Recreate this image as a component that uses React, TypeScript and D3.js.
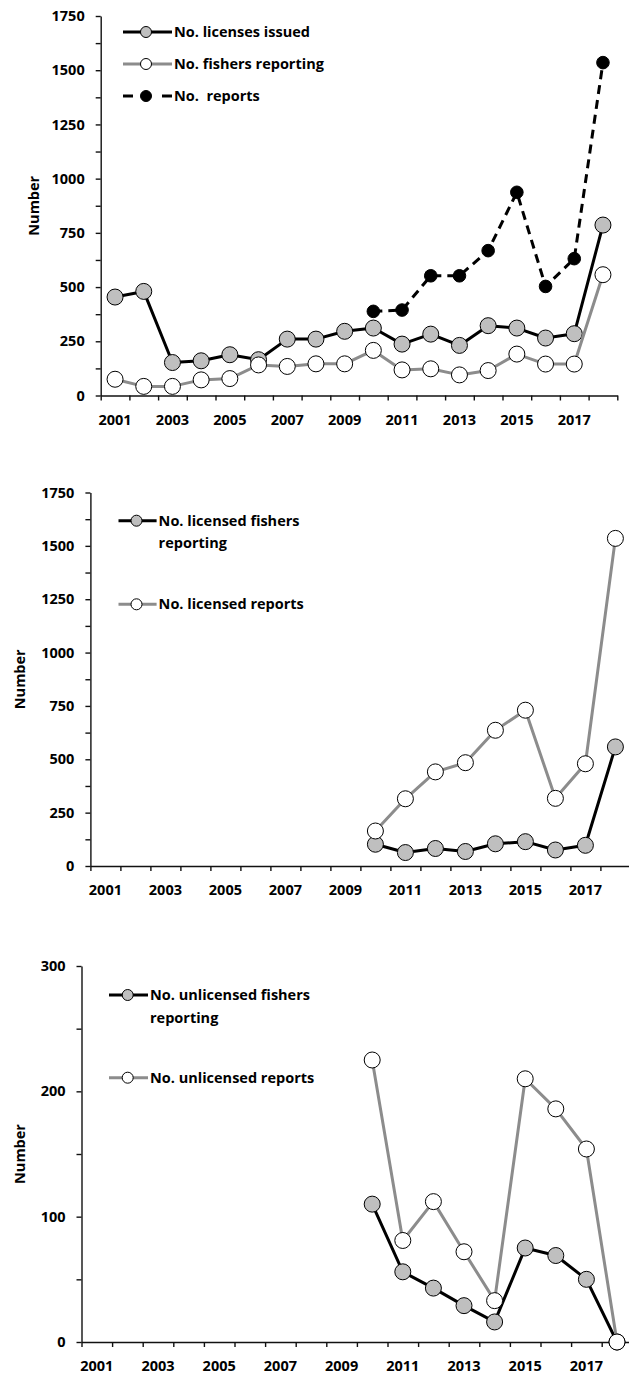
import { useRef, useEffect } from 'react';
import * as d3 from 'd3';

const years = [2001, 2002, 2003, 2004, 2005, 2006, 2007, 2008, 2009, 2010, 2011, 2012, 2013, 2014, 2015, 2016, 2017, 2018];
const yearLabels = [2001, 2003, 2005, 2007, 2009, 2011, 2013, 2015, 2017];

// panel 1
const licensesIssued = [454, 480, 152, 160, 188, 165, 260, 260, 296, 311, 237, 283, 231, 322, 311, 265, 285, 786];
const fishersReporting = [75, 42, 42, 72, 78, 141, 134, 146, 146, 208, 118, 123, 95, 115, 191, 145, 145, 557];
const allReports = [null, null, null, null, null, null, null, null, null, 388, 394, 552, 552, 668, 937, 503, 631, 1535];

// panel 2
const licensedFishers = [null, null, null, null, null, null, null, null, null, 102, 63, 82, 68, 104, 114, 75, 97, 558];
const licensedReports = [null, null, null, null, null, null, null, null, null, 164, 315, 441, 484, 636, 730, 317, 479, 1535];

// panel 3
const unlicensedFishers = [null, null, null, null, null, null, null, null, null, 110, 56, 43, 29, 16, 75, 69, 50, 0];
const unlicensedReports = [null, null, null, null, null, null, null, null, null, 225, 81, 112, 72, 33, 210, 186, 154, 0];

const bigTicks = [0, 250, 500, 750, 1000, 1250, 1500, 1750];
const bigMinor = [0, 125, 250, 375, 500, 625, 750, 875, 1000, 1125, 1250, 1375, 1500, 1625, 1750];
const smallTicks = [0, 100, 200, 300];
const smallMinor = [0, 50, 100, 150, 200, 250, 300];

const FONT = '"Open Sans", sans-serif';
const FS = 14.5;
const GREY_LINE = '#8c8c8c';
const GREY_FILL = '#bfbfbf';

type Series = {
  label: string[];
  values: (number | null)[];
  stroke: string;
  fill: string;
  r: number;
  dashed?: boolean;
};

type Frame = {
  left: number;
  right: number;
  top: number;
  bottom: number;
  max: number;
  major: number[];
  minor: number[];
  titleX: number;
  legendX: [number, number, number, number];
  legendY: number[];
};

function Panel({ frame, series }: { frame: Frame; series: Series[] }) {
  const gx = useRef<SVGGElement>(null);
  const gxl = useRef<SVGGElement>(null);
  const gy = useRef<SVGGElement>(null);

  const x = d3.scaleBand(years.map(String), [frame.left, frame.right]);
  const edges = d3.scaleLinear([0, years.length], [frame.left, frame.right]);
  const y = d3.scaleLinear([0, frame.max], [frame.bottom, frame.top]);
  const cx = (i: number) => (x(String(years[i])) ?? 0) + x.bandwidth() / 2;

  const line = d3.line<number | null>()
    .defined(d => d != null)
    .x((d, i) => cx(i))
    .y(d => y(d as number));

  useEffect(() => {
    const g = d3.select(gy.current!);
    g.call(
      d3.axisLeft(y)
        .tickValues(frame.minor)
        .tickSize(5)
        .tickSizeOuter(0)
        .tickPadding(11)
        .tickFormat(d => (frame.major.includes(+d) ? String(d) : ''))
    );
    g.selectAll('path, line').attr('stroke', '#111').attr('stroke-width', 1.4);
    g.selectAll('text')
      .attr('font-family', FONT)
      .attr('font-weight', 700)
      .attr('font-size', FS)
      .attr('fill', '#000');
  }, [frame]);

  useEffect(() => {
    const g = d3.select(gx.current!);
    g.call(
      d3.axisBottom(edges)
        .tickValues(d3.range(years.length + 1))
        .tickSize(5)
        .tickSizeOuter(0)
        .tickFormat(() => '')
    );
    g.selectAll('path, line').attr('stroke', '#111').attr('stroke-width', 1.4);

    const gl = d3.select(gxl.current!);
    gl.call(d3.axisBottom(x).tickValues(yearLabels.map(String)).tickSize(0));
    gl.select('.domain').remove();
    gl.selectAll('text')
      .attr('y', 29)
      .attr('dy', null)
      .attr('font-family', FONT)
      .attr('font-weight', 700)
      .attr('font-size', FS)
      .attr('fill', '#000');
  }, [frame]);

  const midY = (frame.top + frame.bottom) / 2;
  const [lx0, lcx, lx1, tx] = frame.legendX;

  return (
    <g>
      <g ref={gy} transform={`translate(${frame.left},0)`} />
      <g ref={gx} transform={`translate(0,${frame.bottom})`} />
      <g ref={gxl} transform={`translate(0,${frame.bottom})`} />
      <text
        transform={`translate(${frame.titleX},${midY}) rotate(-90)`}
        textAnchor="middle"
        dy="0.35em"
        fontFamily={FONT}
        fontWeight={700}
        fontSize={FS}
      >
        Number
      </text>

      {series.map((s, k) => (
        <g key={k}>
          <path
            d={line(s.values) ?? ''}
            fill="none"
            stroke={s.stroke}
            strokeWidth={3}
            strokeDasharray={s.dashed ? '9,6' : undefined}
            strokeLinejoin="round"
          />
          {s.values.map((v, i) =>
            v == null ? null : (
              <circle key={i} cx={cx(i)} cy={y(v)} r={s.r} fill={s.fill} stroke="#000" strokeWidth={1} />
            )
          )}
        </g>
      ))}

      {series.map((s, k) => {
        const ly = frame.legendY[k];
        return (
          <g key={'lg' + k}>
            {s.dashed ? (
              <>
                <line x1={lx0} x2={lx0 + 10} y1={ly} y2={ly} stroke={s.stroke} strokeWidth={3} />
                <line x1={lx1 - 10} x2={lx1} y1={ly} y2={ly} stroke={s.stroke} strokeWidth={3} />
              </>
            ) : (
              <line x1={lx0} x2={lx1} y1={ly} y2={ly} stroke={s.stroke} strokeWidth={3} />
            )}
            <circle cx={lcx} cy={ly} r={5.5} fill={s.fill} stroke="#000" strokeWidth={1} />
            {s.label.map((t, j) => (
              <text
                key={j}
                x={tx}
                y={ly + j * 22.6}
                dy="0.35em"
                fontFamily={FONT}
                fontWeight={700}
                fontSize={FS}
                style={{ whiteSpace: 'pre' }}
              >
                {t}
              </text>
            ))}
          </g>
        );
      })}
    </g>
  );
}

const frameTop: Frame = {
  left: 100.7, right: 617.3, top: 16, bottom: 395.5, max: 1750,
  major: bigTicks, minor: bigMinor, titleX: 34,
  legendX: [123, 146, 172, 174], legendY: [32, 64, 96],
};
const frameMid: Frame = {
  left: 90.4, right: 630.4, top: 492.5, bottom: 866, max: 1750,
  major: bigTicks, minor: bigMinor, titleX: 20,
  legendX: [118.5, 136.5, 156.6, 158.6], legendY: [520.7, 604.3],
};
const frameBot: Frame = {
  left: 81.5, right: 632.3, top: 966, bottom: 1342, max: 300,
  major: smallTicks, minor: smallMinor, titleX: 20,
  legendX: [109, 127.7, 148, 150], legendY: [995, 1077.7],
};

export default function App() {
  return (
    <svg width={629} height={1376} style={{ position: 'absolute', left: 0, top: 0, background: '#fff' }}>
      <Panel
        frame={frameTop}
        series={[
          { label: ['No. licenses issued'], values: licensesIssued, stroke: '#000', fill: GREY_FILL, r: 8 },
          { label: ['No. fishers reporting'], values: fishersReporting, stroke: GREY_LINE, fill: '#fff', r: 8 },
          { label: ['No.  reports'], values: allReports, stroke: '#000', fill: '#000', r: 6.3, dashed: true },
        ]}
      />
      <Panel
        frame={frameMid}
        series={[
          { label: ['No. licensed fishers', 'reporting'], values: licensedFishers, stroke: '#000', fill: GREY_FILL, r: 8 },
          { label: ['No. licensed reports'], values: licensedReports, stroke: GREY_LINE, fill: '#fff', r: 8 },
        ]}
      />
      <Panel
        frame={frameBot}
        series={[
          { label: ['No. unlicensed fishers', 'reporting'], values: unlicensedFishers, stroke: '#000', fill: GREY_FILL, r: 8 },
          { label: ['No. unlicensed reports'], values: unlicensedReports, stroke: GREY_LINE, fill: '#fff', r: 8 },
        ]}
      />
    </svg>
  );
}
